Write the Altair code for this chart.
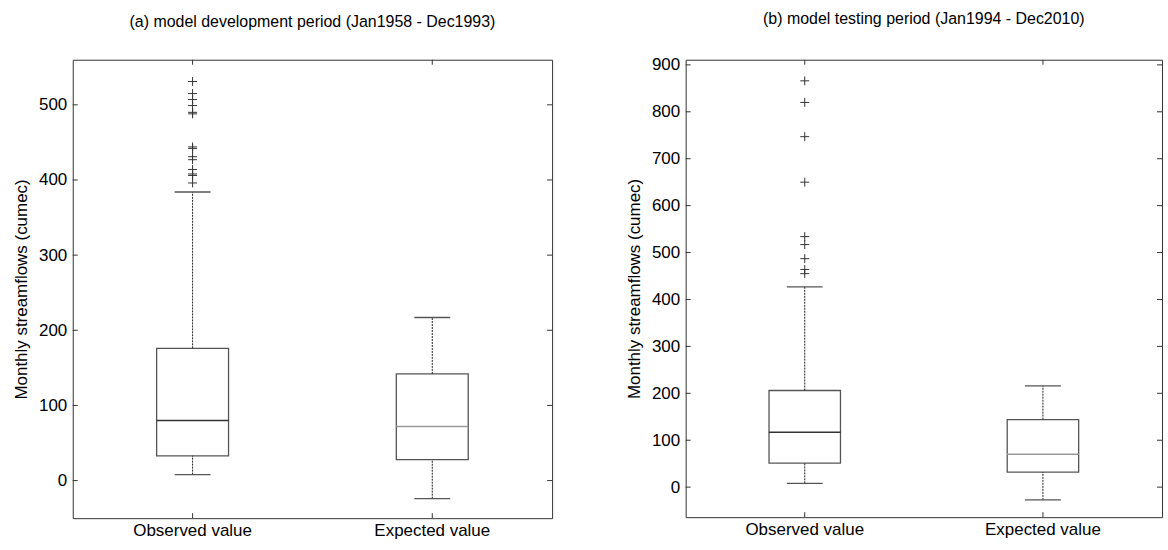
import altair as alt
import pandas as pd

categories = ["Observed value", "Expected value"]

# panel (a) model development period
a_lower = [8, -24]
a_q1 = [33, 28]
a_median = [80, 72]
a_q3 = [176, 142]
a_upper = [384, 217]
a_outliers = [531, 515, 507, 499, 490, 488, 444, 442, 431, 427, 414, 408, 406, 396]
a_ticks = [0, 100, 200, 300, 400, 500]
a_domain = [-50, 560]

# panel (b) model testing period
b_lower = [8, -27]
b_q1 = [51, 32]
b_median = [117, 70]
b_q3 = [206, 144]
b_upper = [427, 216]
b_outliers = [866, 820, 747, 650, 534, 517, 487, 464, 455]
b_ticks = [0, 100, 200, 300, 400, 500, 600, 700, 800, 900]
b_domain = [-64, 911]

median_colors = ["#333333", "#9a9a9a"]
FONT = "Liberation Sans"
PLUS = "M-1,0L1,0M0,-1L0,1"
FS = 17


def panel(title, lower, q1, med, q3, upper, outliers, ticks, domain, W, H):
    stats = pd.DataFrame({"cat": categories, "lower": lower, "q1": q1,
                          "median": med, "q3": q3, "upper": upper})
    out = pd.DataFrame({"cat": [categories[0]] * len(outliers), "v": outliers})
    tdf = pd.DataFrame({"t": ticks})
    cdf = pd.DataFrame({"cat": categories})

    xs = alt.Scale(type="band", domain=categories, paddingInner=0.7, paddingOuter=0.35)
    xaxis = alt.Axis(title=None, labelAngle=0, labelFontSize=FS, labelPadding=4,
                     ticks=False, domain=False, labelColor="#000", labelFont=FONT)
    x = alt.X("cat:N", scale=xs, axis=xaxis)
    ys = alt.Scale(domain=domain, nice=False, zero=False)
    yaxis = alt.Axis(values=ticks, title="Monthly streamflows (cumec)", titleFontSize=FS,
                     titleFontWeight="normal", titleFont=FONT, titleColor="#000",
                     titlePadding=8, labelFontSize=FS, labelFont=FONT, labelColor="#000",
                     labelPadding=6, ticks=False, domain=False, grid=False)

    def Y(f):
        return alt.Y(f, type="quantitative", scale=ys, axis=yaxis)

    base = alt.Chart(stats)
    wu = base.mark_rule(strokeDash=[2, 1], color="#222", strokeWidth=1).encode(
        x=x, y=Y("q3"), y2="upper")
    wl = base.mark_rule(strokeDash=[2, 1], color="#222", strokeWidth=1).encode(
        x=x, y=Y("lower"), y2="q1")
    box = base.mark_bar(fill="white", stroke="#555", strokeWidth=1.3).encode(
        x=x, y=Y("q1"), y2="q3")
    capu = base.mark_tick(size=36, thickness=1.3, color="#555", opacity=1).encode(
        x=x, y=Y("upper"))
    capl = base.mark_tick(size=36, thickness=1.3, color="#555", opacity=1).encode(
        x=x, y=Y("lower"))
    medl = base.mark_tick(size=72, thickness=1.5, opacity=1).encode(
        x=x, y=Y("median"),
        color=alt.Color("cat:N", scale=alt.Scale(domain=categories, range=median_colors), legend=None))
    pts = alt.Chart(out).mark_point(shape=PLUS, size=80, filled=False, color="#333",
                                    strokeWidth=1, opacity=1).encode(x=x, y=Y("v"))
    tl = alt.Chart(tdf).mark_rule(color="#333").encode(
        x=alt.value(0), x2=alt.value(5), y=Y("t"))
    tr = alt.Chart(tdf).mark_rule(color="#333").encode(
        x=alt.value(W - 5), x2=alt.value(W), y=Y("t"))
    tb = alt.Chart(cdf).mark_rule(color="#333").encode(
        x=x, y=alt.value(H), y2=alt.value(H - 5))
    tt = alt.Chart(cdf).mark_rule(color="#333").encode(
        x=x, y=alt.value(0), y2=alt.value(5))

    return alt.layer(box, wu, wl, capu, capl, medl, pts, tl, tr, tb, tt).properties(
        width=W, height=H,
        title=alt.TitleParams(title, fontSize=16, fontWeight="normal", font=FONT,
                              color="#000", anchor="middle", offset=29))


pa = panel("(a) model development period (Jan1958 - Dec1993)", a_lower, a_q1, a_median,
           a_q3, a_upper, a_outliers, a_ticks, a_domain, 481, 460)
pb = panel("(b) model testing period (Jan1994 - Dec2010)", b_lower, b_q1, b_median,
           b_q3, b_upper, b_outliers, b_ticks, b_domain, 478, 459)

chart = alt.hconcat(pa, pb, spacing=72).properties(
    padding={"left": 12, "top": 9, "right": 5, "bottom": 5},
    background="white",
).configure_view(stroke="#333", strokeWidth=1)

chart.save("out.html", embed_options={"renderer": "svg", "actions": False})
